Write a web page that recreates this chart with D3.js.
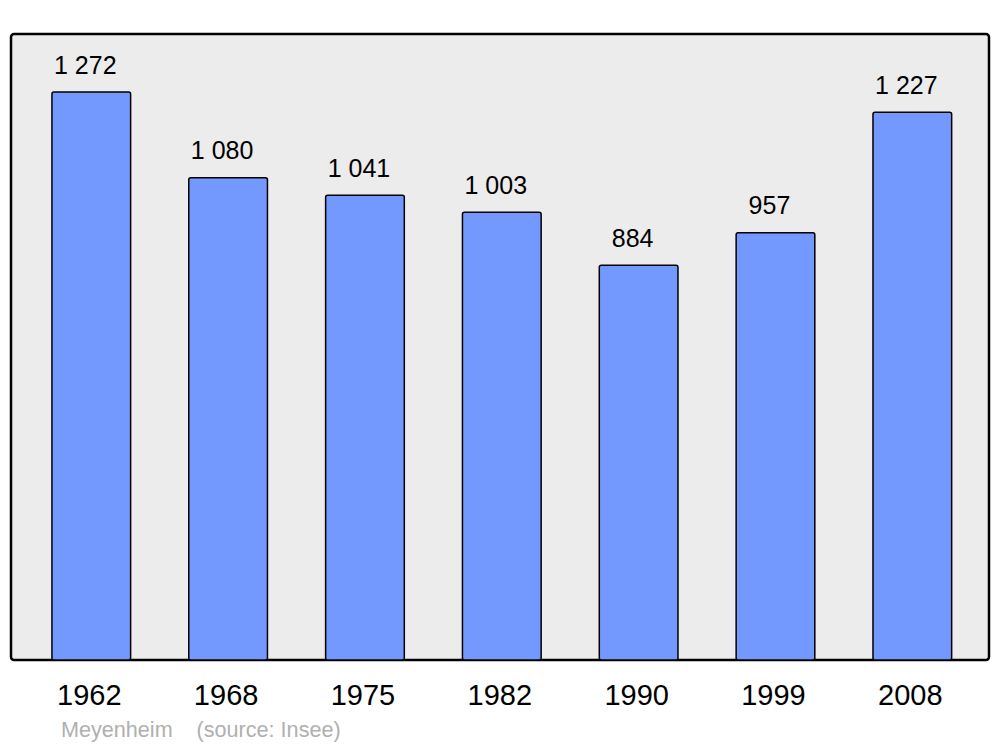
<!DOCTYPE html>
<html><head><meta charset="utf-8">
<script src="https://cdn.jsdelivr.net/npm/d3@7"></script>
<style>body{margin:0;background:#fff}svg{display:block}</style>
</head><body>
<script>
const years = ["1962","1968","1975","1982","1990","1999","2008"];
const population = [1272,1080,1041,1003,884,957,1227];
const valueLabels = ["1 272","1 080","1 041","1 003","884","957","1 227"];
const commune = "Meyenheim";
const source = "(source: Insee)";

const W=1000,H=747;
const svg=d3.select("body").append("svg").attr("width",W).attr("height",H);
const frame={x0:11,x1:989,y0:34,y1:660};
svg.append("rect").attr("x",frame.x0).attr("y",frame.y0).attr("width",frame.x1-frame.x0).attr("height",frame.y1-frame.y0)
  .attr("rx",3).attr("fill","#ececec").attr("stroke","#000").attr("stroke-width",2.5);

const x=d3.scaleBand().domain(years).range([23.2,980.4]).paddingInner(0.425).paddingOuter(0.21);
const y=d3.scaleLinear().domain([0,1402]).range([frame.y1,frame.y0]);

const g=svg.append("g");
g.selectAll("rect.bar").data(years).join("rect").attr("class","bar")
  .attr("x",d=>x(d)).attr("width",x.bandwidth())
  .attr("y",(d,i)=>y(population[i])).attr("height",(d,i)=>y(0)-y(population[i]))
  .attr("rx",2).attr("fill","#7399ff").attr("stroke","#000").attr("stroke-width",1.5);

g.selectAll("text.val").data(years).join("text").attr("class","val")
  .attr("x",d=>x(d)+x.bandwidth()/2-6).attr("y",(d,i)=>y(population[i])-18.5)
  .attr("text-anchor","middle").attr("font-family","Liberation Sans, Arial, sans-serif")
  .attr("font-size",25).attr("fill","#000").text((d,i)=>valueLabels[i]);

const ax=svg.append("g").attr("transform",`translate(0,${frame.y1})`)
  .call(d3.axisBottom(x).tickSize(0).tickPadding(0));
ax.select(".domain").remove();
ax.selectAll("text").attr("y",45).attr("dy",0).attr("dx",-2).attr("font-family","Liberation Sans, Arial, sans-serif")
  .attr("font-size",29).attr("fill","#000");

svg.append("text").attr("x",61).attr("y",737).attr("font-family","Liberation Sans, Arial, sans-serif")
  .attr("font-size",21.6).attr("fill","#b0b0b0").attr("xml:space","preserve").text(commune+"    "+source);
</script>
</body></html>
